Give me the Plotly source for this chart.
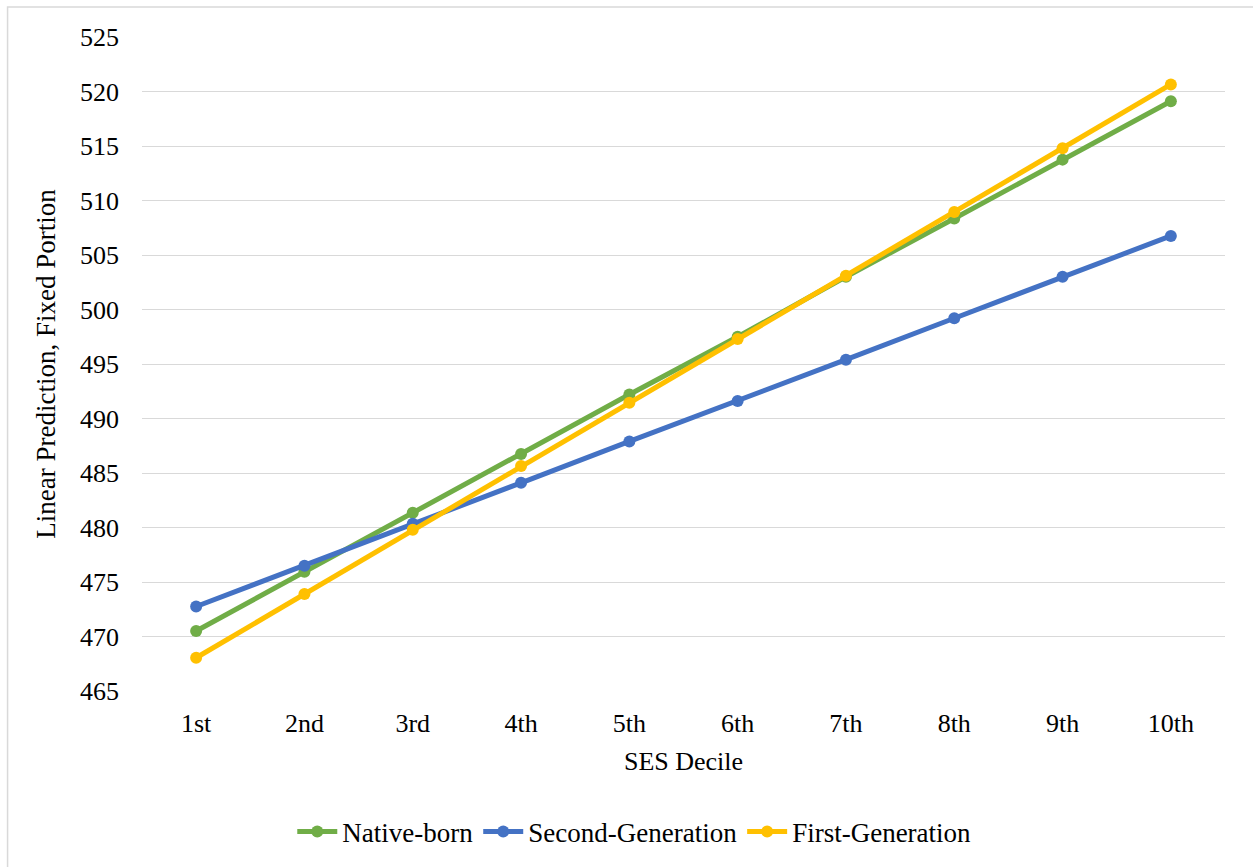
import plotly.graph_objects as go

deciles = ["1st", "2nd", "3rd", "4th", "5th", "6th", "7th", "8th", "9th", "10th"]
native_born = [470.5, 475.95, 481.35, 486.75, 492.2, 497.5, 503.0, 508.35, 513.75, 519.1]
second_gen = [472.75, 476.5, 480.35, 484.1, 487.9, 491.6, 495.4, 499.2, 503.0, 506.75]
first_gen = [468.05, 473.9, 479.8, 485.65, 491.45, 497.3, 503.1, 508.95, 514.8, 520.65]
y_ticks = list(range(465, 526, 5))

series = [
    ("Native-born", native_born, "#70AD47"),
    ("Second-Generation", second_gen, "#4472C4"),
    ("First-Generation", first_gen, "#FFC000"),
]

FONT = "Liberation Serif, Times New Roman, serif"
FS = 26

fig = go.Figure()
for name, vals, color in series:
    fig.add_trace(go.Scatter(
        x=deciles, y=vals, name=name, mode="lines+markers",
        line=dict(color=color, width=5),
        marker=dict(color=color, size=12),
    ))

L, R, T, B = 141.5, 28, 37, 175
W, H = 1253, 867
pw = W - L - R
ph = H - T - B

fig.update_layout(
    width=W, height=H,
    margin=dict(l=L, r=R, t=T, b=B),
    paper_bgcolor="white", plot_bgcolor="white",
    font=dict(family=FONT, size=FS, color="#000000"),
    showlegend=True,
    legend=dict(
        orientation="h", x=(634 - L) / pw, xanchor="center",
        y=-(832 - (T + ph)) / ph, yanchor="middle",
        font=dict(family=FONT, size=FS + 1, color="#000000"),
        itemwidth=40, tracegroupgap=0,
    ),
    xaxis=dict(
        type="category", range=[-0.5, len(deciles) - 0.5],
        showgrid=False, zeroline=False, showline=False,
        ticks="", tickfont=dict(size=FS), ticklabelstandoff=14,
        title=dict(text="SES Decile", font=dict(size=FS), standoff=14),
    ),
    yaxis=dict(
        range=[465, 525], tickvals=y_ticks, ticktext=[str(v) for v in y_ticks],
        showgrid=True, gridcolor="#D9D9D9", gridwidth=1.3,
        zeroline=False, showline=False, ticks="",
        tickfont=dict(size=FS), ticklabelstandoff=22,
        title=dict(text="Linear Prediction, Fixed Portion", font=dict(size=FS + 1), standoff=16),
    ),
    shapes=[dict(
        type="rect", xref="paper", yref="paper",
        x0=(7 - L) / pw, x1=(W + 10 - L) / pw,
        y0=-(H + 10 - (T + ph)) / ph, y1=1 + (T - 7) / ph,
        line=dict(color="#D9D9D9", width=1.5), layer="below",
    )],
)

fig.write_html(
    "out.html",
    config={"displayModeBar": False},
    post_script="document.body.style.margin='0';document.body.style.overflow='hidden';",
)
